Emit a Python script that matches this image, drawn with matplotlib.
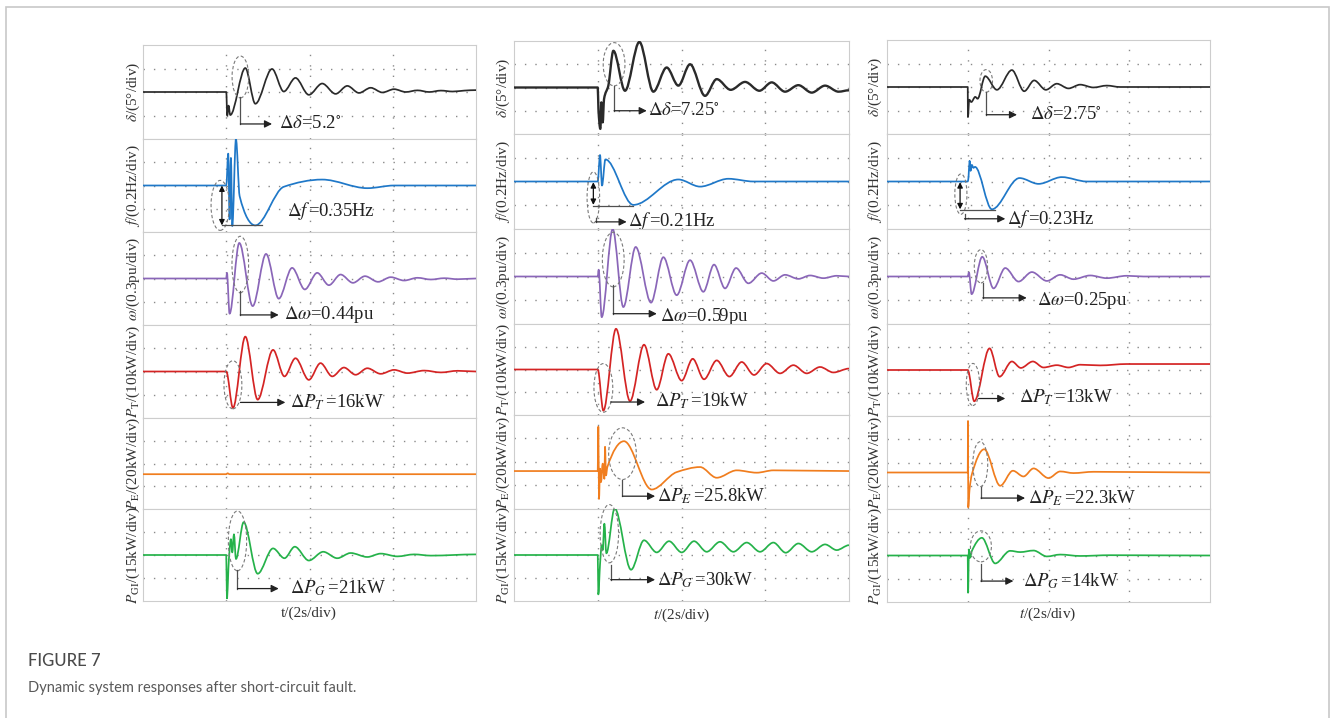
import numpy as np
import matplotlib
matplotlib.use("Agg")
import matplotlib.pyplot as plt
from matplotlib.path import Path
from matplotlib.patches import PathPatch, Ellipse, Rectangle

plt.rcParams['font.family'] = ['Liberation Serif', 'DejaVu Serif']
plt.rcParams['mathtext.fontset'] = 'stix'

# ---------------- data (t in s, values as deviations in physical units) ----------------
# Column 1
d1_t = [0, 2.0, 2.024, 2.056, 2.096, 2.458, 2.699, 3.100, 3.382, 3.663, 3.984, 4.305, 4.627,
        4.908, 5.189, 5.470, 5.751, 6.032, 6.313, 6.594, 6.876, 7.157, 7.438, 7.719, 8.0]
d1_v = [0, 0, -5.0, -2.9, -4.9, 5.1, -2.5, 4.9, 0.1, 3.0, -0.6, 1.8, -0.4,
        1.3, -0.2, 0.9, -0.1, 0.6, 0.0, 0.35, 0.0, 0.3, 0.1, 0.3, 0.4]
f1_t = [0, 2.0, 2.048, 2.080, 2.112, 2.145, 2.233, 2.321, 2.699, 3.382, 4.305, 5.390, 6.032, 8.0]
f1_v = [0, 0, 0.274, -0.291, 0.237, -0.349, 0.40, -0.091, -0.343, -0.011, 0.051, -0.023, 0, 0]
w1_t = [0, 2.0, 2.016, 2.08, 2.313, 2.635, 2.956, 3.261, 3.582, 3.888, 4.185, 4.466, 4.747,
        5.044, 5.333, 5.647, 5.952, 6.273, 6.594, 6.916, 7.237, 7.558, 8.0]
w1_v = [0, 0, 0.073, -0.454, 0.459, -0.356, 0.317, -0.26, 0.137, -0.141, 0.073, -0.086, 0.051,
        -0.056, 0.03, -0.043, 0.017, -0.026, 0.009, -0.013, 0.004, -0.009, 0]
pt1_t = [0, 2.0, 2.161, 2.458, 2.755, 3.124, 3.398, 3.663, 3.984, 4.265, 4.546, 4.827, 5.108,
         5.390, 5.711, 6.032, 6.353, 6.755, 7.157, 7.558, 8.0]
pt1_v = [0, 0, -15.7, 15.0, -12.1, 9.3, -2.1, 5.7, -3.6, 3.6, -2.1, 1.7, -1.4,
         1.4, -1.0, 0.7, -0.7, 0.4, -0.4, 0.3, 0]
pe1_t = [0, 2.0, 2.03, 2.08, 8.0]
pe1_v = [-9.4, -9.4, -8.6, -9.4, -9.4]
pg1_t = [0, 2.0, 2.016, 2.064, 2.112, 2.145, 2.185, 2.233, 2.418, 2.755, 3.124, 3.398, 3.647,
         3.984, 4.329, 4.667, 4.988, 5.390, 5.711, 6.112, 6.514, 6.916, 8.0]
pg1_v = [0, 0, -28.3, -2.6, 10.3, 1.7, 13.5, -2.6, 21.4, -12.2, 4.3, -2.1, 5.4,
         -3.6, 2.1, -2.1, 1.3, -1.3, 0.9, -0.9, 0.4, -0.4, 0.4]

# Column 2
d2_t = [0, 2.0, 2.016, 2.062, 2.086, 2.118, 2.150, 2.253, 2.373, 2.651, 2.994, 3.328, 3.646,
        3.925, 4.204, 4.562, 4.841, 5.175, 5.518, 5.860, 6.154, 6.473, 6.791, 7.110, 7.428,
        7.75, 8.0]
d2_v = [0, 0, -4.6, -8.9, -3.2, -7.5, -2.5, 0.4, 7.9, -0.7, 9.8, -0.9, 4.3,
        0.4, 5.0, -1.8, 1.8, -0.5, 1.2, -0.7, 1.1, -0.9, 0.5, -1.1, 0.4,
        -0.9, -0.6]
f2_t = [0, 2.0, 2.054, 2.102, 2.182, 2.850, 3.925, 4.443, 5.119, 5.717, 8.0]
f2_v = [0, 0, 0.223, -0.034, 0.186, -0.197, 0.017, -0.043, 0.023, 0, 0]
w2_t = [0, 2.0, 2.022, 2.094, 2.357, 2.611, 2.906, 3.272, 3.567, 3.885, 4.204, 4.522, 4.777,
        5.04, 5.303, 5.597, 5.916, 6.194, 6.473, 6.791, 7.070, 7.389, 7.707, 8.0]
w2_v = [0, 0, 0.086, -0.514, 0.6, -0.386, 0.373, -0.33, 0.244, -0.236, 0.206, -0.193, 0.15,
        -0.15, 0.107, -0.086, 0.043, -0.056, 0.021, -0.03, 0.013, -0.021, 0.009, 0]
pt2_t = [0, 2.0, 2.134, 2.436, 2.771, 3.105, 3.408, 3.686, 4.005, 4.268, 4.538, 4.841, 5.143,
         5.438, 5.732, 6.035, 6.354, 6.672, 6.990, 7.309, 7.627, 8.0]
pt2_v = [0, 0, -18.1, 17.9, -13.9, 10.9, -8.9, 6.9, -4.9, 4.7, -4.3, 4.0, -3.1,
         3.3, -2.4, 2.6, -1.7, 1.9, -1.7, 1.1, -1.3, 0.4]
pe2_t = [0, 2.0, 2.014, 2.030, 2.054, 2.078, 2.118, 2.158, 2.174, 2.197, 2.229, 2.627, 3.288,
         3.885, 4.443, 4.841, 5.318, 5.796, 6.194, 8.0]
pe2_v = [-7.7, -7.7, 30.0, -31.4, -5.7, -17.1, -1.4, -14.3, 12.9, -11.4, -4.3, 17.7, -23.4,
         -8.6, -4.3, -13.4, -7.1, -9.1, -7.1, -7.7]
pg2_t = [0, 2.0, 2.014, 2.054, 2.094, 2.118, 2.158, 2.205, 2.404, 2.795, 3.105, 3.408, 3.702,
         4.005, 4.299, 4.602, 4.920, 5.239, 5.557, 5.876, 6.194, 6.489, 6.791, 7.110, 7.428,
         7.707, 8.0]
pg2_v = [0, 0, -25.7, -6.4, 6.4, 3.2, 20.4, 1.1, 30.4, -9.6, 9.6, 1.7, 9.0,
         1.7, 9.0, 2.1, 8.6, 2.1, 8.1, 2.1, 8.1, 1.5, 7.5, 2.1, 6.9,
         3.2, 6.4]

# Column 3
d3_t = [0, 2.0, 2.004, 2.037, 2.087, 2.186, 2.243, 2.433, 2.722, 3.093, 3.398, 3.645, 3.934,
        4.206, 4.495, 4.784, 5.113, 5.443, 5.773, 8.0]
d3_v = [0, 0, -6.4, -2.7, -3.2, -2.1, -2.5, 2.3, -0.6, 3.6, -0.9, 1.4, -0.6,
        0.7, -0.3, 0.5, -0.1, 0.3, 0, 0]
f3_t = [0, 2.0, 2.02, 2.045, 2.07, 2.10, 2.14, 2.18, 2.598, 3.282, 3.753, 4.33, 4.948, 8.0]
f3_v = [0, 0, 0.04, 0.174, 0.09, 0.14, 0.115, 0.123, -0.234, 0.029, -0.02, 0.037, 0, 0]
w3_t = [0, 2.0, 2.029, 2.095, 2.359, 2.639, 2.928, 3.258, 3.588, 3.959, 4.289, 4.619, 5.031,
        5.443, 5.938, 6.351, 8.0]
w3_v = [0, 0, 0.051, -0.223, 0.249, -0.15, 0.107, -0.064, 0.056, -0.056, 0.021, -0.034, 0.013,
        -0.021, 0.009, 0, 0]
pt3_t = [0, 2.0, 2.161, 2.540, 2.788, 3.093, 3.315, 3.612, 3.876, 4.206, 4.495, 4.784, 5.278,
         5.938, 8.0]
pt3_v = [0, 0, -13.6, 9.4, -2.9, 3.7, 0.9, 3.7, 1.1, 2.1, 1.1, 2.3, 2.0, 2.6, 2.6]
pe3_t = [0, 2.0, 2.006, 2.012, 2.045, 2.103, 2.408, 2.804, 3.118, 3.381, 3.629, 4.0, 4.289,
         4.619, 5.113, 8.0]
pe3_v = [-8.6, -8.6, 35.7, -38.6, -22.9, -10.0, 11.4, -20.0, -7.1, -12.0, -5.1, -13.4, -7.7,
         -9.1, -8.0, -8.6]
pg3_t = [0, 2.0, 2.008, 2.029, 2.054, 2.103, 2.35, 2.68, 3.05, 3.30, 3.63, 3.96, 4.29, 4.78,
         5.53, 8.0]
pg3_v = [0, 0, -24.0, 3.9, -1.5, 3.0, 11.4, -5.1, 3.0, 2.2, 3.2, -0.6, 0.6, -0.3, 0.2, 0]

# Quantities, scales (per division), annotated deviations
signal_names = ['delta', 'f', 'omega', 'PT', 'PE', 'PG']
per_div = [5, 0.2, 0.3, 10, 20, 15]
ylabels = [r'$\delta$/(5°/div)', r'$f$/(0.2Hz/div)', r'$\omega$/(0.3pu/div)',
           r'$P_{\mathrm{T}}$/(10kW/div)', r'$P_{\mathrm{E}}$/(20kW/div)',
           r'$P_{\mathrm{GI}}$/(15kW/div)']
xlabels = ['t/(2s/div)', r'$t$/(2s/div)', r'$t$/(2s/div)']
delta_col1 = [5.2, 0.35, 0.44, 16, None, 21]
delta_col2 = [7.25, 0.21, 0.59, 19, 25.8, 30]
delta_col3 = [2.75, 0.23, 0.25, 13, 22.3, 14]
delta_units = ['°', 'Hz', 'pu', 'kW', 'kW', 'kW']
delta_syms = [r'$\Delta\delta$=', r'$\Delta f\,$=', r'$\Delta\omega$=', r'$\Delta P_T\,$=',
              r'$\Delta P_E\,$=', r'$\Delta P_G\,$=']
caption_title = 'FIGURE 7'
caption_text = 'Dynamic system responses after short-circuit fault.'

colors = ['#2a2a2a', '#1f78c8', '#8a66b8', '#d42424', '#f07d1e', '#25b24a']

series = [
    [(d1_t, d1_v), (f1_t, f1_v), (w1_t, w1_v), (pt1_t, pt1_v), (pe1_t, pe1_v), (pg1_t, pg1_v)],
    [(d2_t, d2_v), (f2_t, f2_v), (w2_t, w2_v), (pt2_t, pt2_v), (pe2_t, pe2_v), (pg2_t, pg2_v)],
    [(d3_t, d3_v), (f3_t, f3_v), (w3_t, w3_v), (pt3_t, pt3_v), (pe3_t, pe3_v), (pg3_t, pg3_v)],
]
deltas = [delta_col1, delta_col2, delta_col3]

# ---------------- layout (pixels) ----------------
W, H = 1330, 718
col_x = [(143, 476), (514, 849), (887, 1210)]
col_y = [[45, 139, 232, 325, 418, 509, 601],
         [41, 134, 229, 324, 415, 509, 601],
         [40, 134, 229, 324, 416, 509, 602]]
ylab_x = [133, 503, 875]
xlab_pos = [(309, 613), (682, 615), (1048, 614)]

# annotation geometry: ellipse (tc, vc, w, h); connector (t0, v0, v1, t1); text (tx, ty)
ann = [
    [dict(ell=(2.34, 3.2, 0.40, 8.9), conn=(2.34, -1.07, -6.8, 3.10), txt=(3.26, -6.8)),
     dict(ell=(1.855, -0.171, 0.44, 0.43), darr=(1.896, 0.0, -0.343), hl=(1.896, 2.86, -0.343),
          txt=(3.46, -0.22)),
     dict(ell=(2.337, 0.18, 0.40, 0.73), conn=(2.337, -0.163, -0.47, 3.26), txt=(3.38, -0.47)),
     dict(ell=(2.16, -5.7, 0.43, 20.7), conn=(2.34, -13.3, -13.3, 3.42), txt=(3.54, -13.3)),
     None,
     dict(ell=(2.27, 9.2, 0.44, 39.0), conn=(2.27, -10.0, -21.9, 3.26), txt=(3.54, -21.9))],
    [dict(ell=(2.39, 5.0, 0.52, 9.3), conn=(2.39, 0.36, -5.0, 3.17), txt=(3.21, -5.0)),
     dict(ell=(1.895, -0.134, 0.30, 0.43), darr=(1.895, -0.006, -0.197), hl=(1.895, 2.85, -0.203),
          conn=(1.96, -0.306, -0.34, 2.69), txt=(2.73, -0.335)),
     dict(ell=(2.37, 0.214, 0.52, 0.69), conn=(2.37, -0.107, -0.47, 3.41), txt=(3.49, -0.50)),
     dict(ell=(2.134, -8.1, 0.45, 21.4), conn=(2.31, -14.3, -14.3, 3.13), txt=(3.37, -13.8)),
     dict(ell=(2.59, 7.1, 0.66, 44.0), conn=(2.59, -15.7, -29.1, 3.37), txt=(3.41, -29.1)),
     dict(ell=(2.277, 13.9, 0.44, 38.0), conn=(2.31, -6.4, -16.1, 3.37), txt=(3.41, -16.1))],
    [dict(ell=(2.458, 1.3, 0.31, 4.8), conn=(2.458, -1.1, -5.9, 3.22), txt=(3.55, -5.9)),
     dict(ell=(1.83, -0.106, 0.30, 0.34), darr=(1.81, -0.006, -0.234), hl=(1.81, 2.68, -0.243),
          conn=(1.92, -0.277, -0.314, 2.93), txt=(2.97, -0.314)),
     dict(ell=(2.326, 0.129, 0.33, 0.42), conn=(2.375, -0.086, -0.27, 3.46), txt=(3.71, -0.30)),
     dict(ell=(2.128, -6.3, 0.33, 18.3), conn=(2.27, -12.4, -12.4, 2.93), txt=(3.26, -11.9)),
     dict(ell=(2.31, -1.4, 0.37, 38.6), conn=(2.33, -21.4, -30.6, 3.42), txt=(3.50, -30.6)),
     dict(ell=(2.326, 5.9, 0.52, 20.0), conn=(2.326, -5.8, -16.5, 3.13), txt=(3.38, -16.5))],
]


def smooth_path(t, v):
    t = np.asarray(t, float)
    v = np.asarray(v, float)
    h = np.diff(t)
    d = np.diff(v) / h
    m = np.zeros_like(v)
    for i in range(1, len(v) - 1):
        if d[i - 1] * d[i] > 0:
            w1 = 2 * h[i] + h[i - 1]
            w2 = h[i] + 2 * h[i - 1]
            m[i] = (w1 + w2) / (w1 / d[i - 1] + w2 / d[i])
    verts = [(t[0], v[0])]
    codes = [Path.MOVETO]
    for i in range(len(h)):
        verts += [(t[i] + h[i] / 3, v[i] + m[i] * h[i] / 3),
                  (t[i + 1] - h[i] / 3, v[i + 1] - m[i + 1] * h[i] / 3),
                  (t[i + 1], v[i + 1])]
        codes += [Path.CURVE4] * 3
    return Path(verts, codes)


fig = plt.figure(figsize=(W / 100, H / 100), dpi=100)
fig.patch.set_facecolor('white')

# outer frame
fig.patches.append(Rectangle((6 / W, -0.05), (1329 - 6) / W, 1 - 7 / H + 0.05,
                             transform=fig.transFigure, fill=False, ec='#c8c8c8', lw=1.2))

ann_col = '#505050'
txt_col = '#222222'

for c in range(3):
    x0, x1 = col_x[c]
    ys = col_y[c]
    for r in range(6):
        y0, y1 = ys[r], ys[r + 1]
        ax = fig.add_axes([x0 / W, 1 - y1 / H, (x1 - x0) / W, (y1 - y0) / H])
        s = per_div[r]
        ax.set_xlim(0, 8)
        ax.set_ylim(-2 * s, 2 * s)
        ax.set_xticks([])
        ax.set_yticks([])
        for sp in ax.spines.values():
            sp.set_color('#cdcdcd')
            sp.set_linewidth(0.8)
        for gx in (2, 4, 6):
            ax.axvline(gx, color='#8a8a8a', lw=1.0, ls=(0, (1, 6.5)), zorder=1)
        for gy in (-s, 0, s):
            ax.axhline(gy, color='#8a8a8a', lw=1.0, ls=(0, (1, 6.5)), zorder=1)

        t, v = series[c][r]
        lw = 1.7 if (c == 1 and r == 0) else 1.25
        ax.add_patch(PathPatch(smooth_path(t, v), fill=False, ec=colors[r], lw=lw,
                               joinstyle='round', capstyle='round', zorder=3))

        a = ann[c][r]
        if a is not None:
            tc, vc, ew, eh = a['ell']
            ax.add_patch(Ellipse((tc, vc), ew, eh, fill=False, ec='#7a7a7a', lw=0.8,
                                 ls=(0, (3, 2)), zorder=4, clip_on=False))
            if 'darr' in a:
                tx_, va_, vb_ = a['darr']
                ax.annotate('', xy=(tx_, vb_), xytext=(tx_, va_),
                            arrowprops=dict(arrowstyle='<|-|>', color='#111111', lw=0.9,
                                            shrinkA=0, shrinkB=0, mutation_scale=8),
                            zorder=5)
            if 'hl' in a:
                ta, tb, vh = a['hl']
                ax.plot([ta, tb], [vh, vh], color=ann_col, lw=0.9, zorder=5, clip_on=False)
            if 'conn' in a:
                t0, v0, v1, t1 = a['conn']
                ax.plot([t0, t0], [v0, v1], color=ann_col, lw=0.9, zorder=5, clip_on=False)
                ax.annotate('', xy=(t1, v1), xytext=(t0, v1),
                            arrowprops=dict(arrowstyle='-|>', color='#222222', lw=0.9,
                                            shrinkA=0, shrinkB=0, mutation_scale=11),
                            zorder=5, annotation_clip=False)
            dv = deltas[c][r]
            label = delta_syms[r] + ('%g' % dv) + (r'$^{\circ}$' if r == 0 else delta_units[r])
            ax.text(a['txt'][0], a['txt'][1], label, fontsize=13.5, color=txt_col,
                    ha='left', va='center', zorder=6, clip_on=False)

        fig.text(ylab_x[c] / W, 1 - (y0 + y1) / 2 / H, ylabels[r], rotation=90,
                 ha='center', va='center', fontsize=11, color='#333333')

    fig.text(xlab_pos[c][0] / W, 1 - xlab_pos[c][1] / H, xlabels[c], ha='center', va='center',
             fontsize=11, color='#333333')

fig.text(28 / W, 1 - 661 / H, caption_title, family=['Lato', 'DejaVu Sans'],
         fontsize=12, color='#4a4a4a', ha='left', va='center', weight='medium')
fig.text(28 / W, 1 - 688 / H, caption_text, family=['Lato', 'DejaVu Sans'],
         fontsize=10.5, color='#5a5a5a', ha='left', va='center')

fig.savefig('out.png', dpi=100, facecolor='white')
